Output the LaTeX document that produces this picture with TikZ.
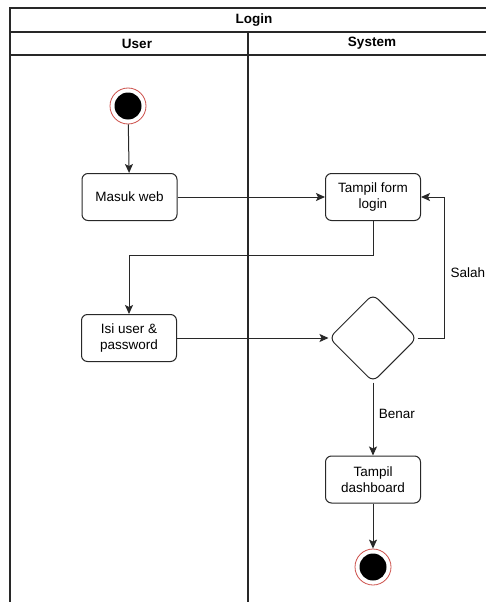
\documentclass[tikz,border=0pt]{standalone}
\usepackage{fontspec}
\setmainfont{Liberation Sans}
\usetikzlibrary{shapes.geometric,arrows.meta}
\definecolor{ringred}{RGB}{205,80,75}
\definecolor{linegray}{RGB}{40,40,40}
\begin{document}
\begin{tikzpicture}[x=1pt,y=-1pt,
  every node/.style={font=\fontsize{13.5}{15.5}\selectfont},
  actbox/.style={draw=linegray,line width=1pt,rounded corners=6pt,minimum width=95pt,minimum height=47pt,align=center,inner sep=2pt},
  decis/.style={draw=linegray,line width=1pt,diamond,aspect=1,minimum size=88pt,rounded corners=7pt,inner sep=0pt},
  startnode/.style={circle,draw=ringred,line width=0.8pt,fill=white,minimum size=36pt,inner sep=0pt,
     path picture={\fill[black] (path picture bounding box.center) circle (13.5pt);}},
  frameline/.style={draw=linegray,line width=1.3pt},
  conn/.style={draw=linegray,line width=1pt,-{Stealth[length=9pt,width=8pt,inset=2pt]}},
  hdr/.style={font=\bfseries\fontsize{13.5}{15.5}\selectfont}]
\useasboundingbox (0,0) rectangle (485,602);
\fill[white] (0,0) rectangle (485,602);
% swimlane frame
\draw[frameline] (10,602) -- (10,8) -- (490,8);
\draw[frameline] (10,32) -- (490,32);
\draw[frameline] (10,55) -- (490,55);
\draw[frameline] (248,32) -- (248,602);
\node[hdr] (title) at (254,20) {Login};
\node[hdr] (laneuser) at (137,43.5) {User};
\node[hdr] (lanesys) at (372,43.5) {System};
% nodes
\node[startnode] (start) at (128,106) {};
\node[actbox] (masuk) at (129.5,197) {Masuk web};
\node[actbox] (form) at (373,197) {Tampil form\\login};
\node[actbox] (isi) at (129,338) {Isi user \&\\password};
\node[decis] (dec) at (373,338) {};
\node[actbox] (dash) at (373,479.5) {Tampil\\dashboard};
\node[startnode] (end) at (373,567) {};
\coordinate (bend1) at (373,255);
\coordinate (bend2) at (444,338);
% connectors
\draw[conn] (start) -- (masuk);
\draw[conn] (masuk) -- (form);
\draw[conn] (form.south) -- (bend1) -| (isi.north);
\draw[conn] (isi) -- (dec);
\draw[conn] (dec.east) -- (bend2) |- (form.east);
\draw[conn] (dec.south) -- node[right=2pt,pos=0.43] (benar) {Benar} (dash.north);
\draw[conn] (dash) -- (end);
\node[anchor=west] (salah) at (447,273) {Salah};
\end{tikzpicture}
\end{document}
